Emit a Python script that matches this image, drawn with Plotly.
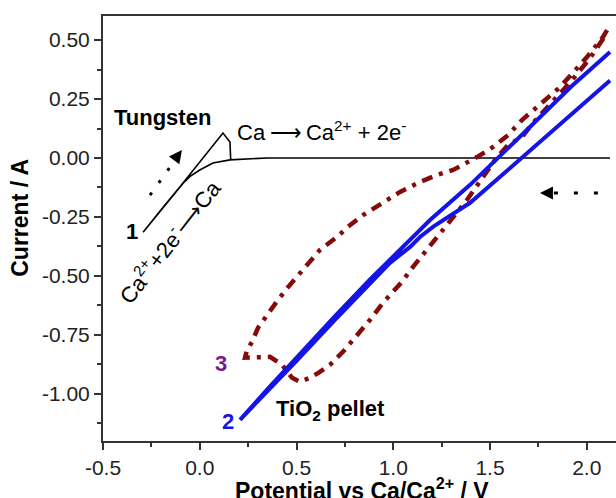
import plotly.graph_objects as go

# ---- data ----
# Curve 1: Tungsten CV
w_x = [2.12, 1.5, 1.0, 0.6, 0.348, 0.156, 0.068, 0.0, -0.05, -0.087, -0.15, -0.22, -0.293,
       -0.2, -0.1, 0.0, 0.06, 0.12, 0.156, 0.16]
w_y = [0.0, 0.0, 0.0, 0.0, 0.0, -0.008, -0.021, -0.051, -0.078, -0.108, -0.17, -0.24, -0.315,
       -0.22, -0.12, -0.015, 0.045, 0.106, 0.068, -0.008]

# Curve 2: TiO2 pellet (blue)
ti_x = [2.12, 1.92, 1.722, 1.552, 1.397, 1.19, 1.071, 0.968, 0.88, 0.70, 0.50, 0.35, 0.208,
        0.35, 0.50, 0.70, 0.895, 0.983, 1.087, 1.138, 1.205, 1.293, 1.397, 1.552, 1.722, 1.92, 2.12]
ti_y = [0.449, 0.303, 0.144, 0.007, -0.114, -0.263, -0.360, -0.445, -0.515, -0.67, -0.845, -0.98, -1.11,
        -0.99, -0.86, -0.685, -0.52, -0.445, -0.377, -0.335, -0.292, -0.245, -0.19, -0.08, 0.041, 0.185, 0.328]

# Curve 3: (dark red dash-dot)
c3_x = [2.105, 2.084, 2.001, 1.924, 1.862, 1.743, 1.665, 1.593, 1.516, 1.433, 1.381, 1.309, 1.226,
        1.138, 1.035, 0.968, 0.844, 0.766, 0.709, 0.621, 0.518, 0.466, 0.404, 0.348, 0.301, 0.270,
        0.244, 0.234,
        0.296, 0.363, 0.425, 0.477, 0.518, 0.570, 0.621, 0.673, 0.740, 0.828, 0.880, 0.947, 0.994,
        1.045, 1.102, 1.174, 1.226, 1.267, 1.381, 1.464, 1.526, 1.593, 1.665, 1.722, 1.795, 1.924,
        2.017, 2.105]
c3_y = [0.542, 0.513, 0.428, 0.360, 0.301, 0.216, 0.161, 0.097, 0.047, 0.004, -0.021, -0.051, -0.072,
        -0.102, -0.144, -0.178, -0.242, -0.292, -0.335, -0.390, -0.487, -0.538, -0.602, -0.665, -0.720,
        -0.780, -0.814, -0.847,
        -0.843, -0.843, -0.877, -0.932, -0.949, -0.932, -0.907, -0.877, -0.822, -0.737, -0.686, -0.614,
        -0.572, -0.525, -0.462, -0.390, -0.335, -0.297, -0.178, -0.081, -0.008, 0.055, 0.089, 0.148,
        0.212, 0.330, 0.424, 0.530]

x_ticks = [-0.5, 0.0, 0.5, 1.0, 1.5, 2.0]
x_ticktext = ["-0.5", "0.0", "0.5", "1.0", "1.5", "2.0"]
x_minor = [-0.25, 0.25, 0.75, 1.25, 1.75]
y_ticks = [0.5, 0.25, 0.0, -0.25, -0.5, -0.75, -1.0]
y_ticktext = ["0.50", "0.25", "0.00", "-0.25", "-0.50", "-0.75", "-1.00"]
y_minor = [0.375, 0.125, -0.125, -0.375, -0.625, -0.875, -1.125]

FONT = "Liberation Sans, Arial, sans-serif"
BLUE = "#1414e6"
RED = "#850a0a"
PURPLE = "#7a1a8c"

fig = go.Figure()
fig.add_trace(go.Scatter(x=w_x, y=w_y, mode="lines", line=dict(color="black", width=1.6),
                         showlegend=False))
fig.add_trace(go.Scatter(x=c3_x, y=c3_y, mode="lines",
                         line=dict(color=RED, width=4.5, dash="11px,7px,4px,7px"),
                         showlegend=False))
fig.add_trace(go.Scatter(x=ti_x, y=ti_y, mode="lines", line=dict(color=BLUE, width=4),
                         showlegend=False))

ann = []
ann.append(dict(x=-0.19, y=0.17, text="<b>Tungsten</b>", showarrow=False,
                font=dict(size=22, color="black", family=FONT)))
ann.append(dict(x=0.182, y=0.114, xanchor="left", showarrow=False,
                text="Ca\u2009\u27f6\u2009Ca<sup>2+</sup> + 2e<sup>-</sup>",
                font=dict(size=22, color="black", family=FONT)))
ann.append(dict(x=-0.16, y=-0.35, textangle=-52, showarrow=False,
                text="Ca<sup>2+</sup>+2e<sup>-</sup>\u27f6Ca",
                font=dict(size=22, color="black", family=FONT)))
ann.append(dict(x=-0.35, y=-0.31, text="<b>1</b>", showarrow=False,
                font=dict(size=22, color="black", family=FONT)))
ann.append(dict(x=0.146, y=-1.119, text="<b>2</b>", showarrow=False,
                font=dict(size=22, color=BLUE, family=FONT)))
ann.append(dict(x=0.110, y=-0.873, text="<b>3</b>", showarrow=False,
                font=dict(size=22, color=PURPLE, family=FONT)))
ann.append(dict(x=0.678, y=-1.07, text="<b>TiO<sub>2</sub> pellet</b>", showarrow=False,
                font=dict(size=22, color="black", family=FONT)))
# arrow heads
ann.append(dict(x=-0.092, y=0.034, ax=-6, ay=8, showarrow=True, arrowhead=2,
                arrowsize=1.3, arrowwidth=2, arrowcolor="black", text=""))
ann.append(dict(x=1.758, y=-0.148, ax=10, ay=0, showarrow=True, arrowhead=2,
                arrowsize=1.3, arrowwidth=2, arrowcolor="black", text=""))
# axis titles
ann.append(dict(xref="paper", yref="paper", x=-0.162, y=0.525, textangle=-90,
                xanchor="center", yanchor="middle",
                text="<b>Current / A</b>", showarrow=False,
                font=dict(size=23, color="black", family=FONT)))
ann.append(dict(xref="paper", yref="paper", x=0.505, y=-0.112,
                xanchor="center", yanchor="middle",
                text="<b>Potential vs Ca/Ca<sup>2+</sup> / V</b>", showarrow=False,
                font=dict(size=23, color="black", family=FONT)))

shapes = [
    dict(type="line", x0=-0.257, y0=-0.157, x1=-0.115, y1=0.005,
         line=dict(color="black", width=3, dash="3px,12px")),
    dict(type="line", x0=1.83, y0=-0.148, x1=2.105, y1=-0.148,
         line=dict(color="black", width=3, dash="4px,16px")),
]

fig.update_layout(
    width=616, height=498,
    margin=dict(l=103, r=0, t=16, b=57),
    paper_bgcolor="white", plot_bgcolor="white",
    annotations=ann, shapes=shapes,
    font=dict(family=FONT, size=21, color="#222"),
    xaxis=dict(range=[-0.5, 2.151], showgrid=False, zeroline=False,
               showline=True, linecolor="#333", linewidth=2, mirror=True,
               ticks="outside", ticklen=7, tickwidth=2, tickcolor="#333",
               tickmode="array", tickvals=x_ticks, ticktext=x_ticktext,
               tickfont=dict(size=21, color="#222", family=FONT),
               minor=dict(tickmode="array", tickvals=x_minor, ticks="outside",
                          ticklen=4, tickwidth=2, tickcolor="#333")),
    yaxis=dict(range=[-1.2, 0.602], showgrid=False, zeroline=False,
               showline=True, linecolor="#333", linewidth=2, mirror=False,
               ticks="outside", ticklen=7, tickwidth=2, tickcolor="#333",
               tickmode="array", tickvals=y_ticks, ticktext=y_ticktext,
               tickfont=dict(size=21, color="#222", family=FONT),
               minor=dict(tickmode="array", tickvals=y_minor, ticks="outside",
                          ticklen=4, tickwidth=2, tickcolor="#333")),
)

fig.write_html("out.html")
